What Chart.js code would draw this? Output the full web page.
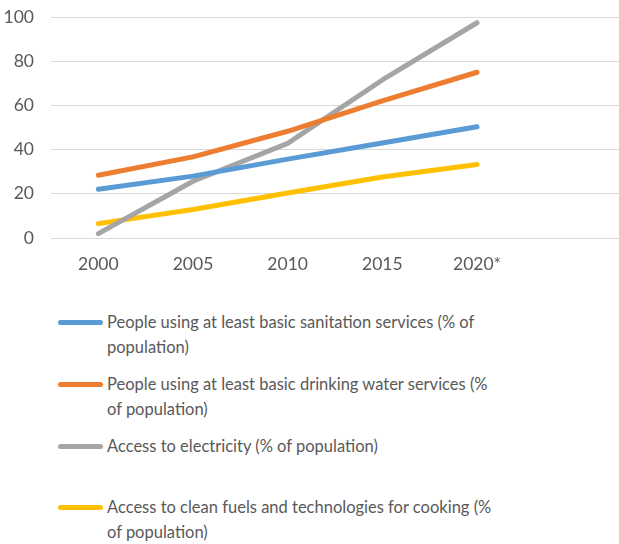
<!DOCTYPE html>
<html>
<head>
<meta charset="utf-8">
<script src="https://cdn.jsdelivr.net/npm/chart.js@4"></script>
<style>
  body { margin: 0; background: #fff; width: 619px; height: 544px; overflow: hidden; position: relative; font-family: Lato, sans-serif; }
  #wrap { position: absolute; left: 0; top: 0; width: 619px; height: 290px; }
  .leg { position: absolute; left: 58px; width: 440px; color: #595959; font-size: 16.5px; line-height: 25px; }
  .leg .sw { position: absolute; left: 0; top: 10px; width: 45px; height: 5px; border-radius: 3px; }
  .leg .tx { margin-left: 49px; }
</style>
</head>
<body>
<div id="wrap"><canvas id="lineChart" width="619" height="290"></canvas></div>
<div id="legend"></div>
<script>
// chart data
const years = ['2000', '2005', '2010', '2015', '2020*', ''];
const sanitation = [22.1, 28, 35.7, 43, 50.3];
const drinkingWater = [28.4, 36.7, 48.3, 62, 75];
const electricity = [2, 25.7, 42.8, 71.5, 97.4];
const cleanFuels = [6.5, 12.9, 20.4, 27.6, 33.3];
const seriesNames = [
    'People using at least basic sanitation services (% of population)',
    'People using at least basic drinking water services (% of population)',
    'Access to electricity (% of population)',
    'Access to clean fuels and technologies for cooking (% of population)'
];
const colors = ['#5B9BD5', '#ED7D31', '#A5A5A5', '#FFC000'];
const yTicks = [0, 20, 40, 60, 80, 100];

const allSeries = [sanitation, drinkingWater, electricity, cleanFuels];

function renderChart() {
    const ctx = document.getElementById('lineChart').getContext('2d');
    new Chart(ctx, {
        type: 'line',
        data: {
            labels: years,
            datasets: allSeries.map((vals, i) => ({
                label: seriesNames[i],
                data: vals,
                borderColor: colors[i],
                backgroundColor: colors[i],
                borderWidth: 5,
                borderCapStyle: 'round',
                borderJoinStyle: 'round',
                pointRadius: 0,
                tension: 0
            }))
        },
        options: {
            responsive: false,
            animation: false,
            layout: { padding: { top: 17, right: 0, left: 0, bottom: 0 } },
            plugins: { legend: { display: false }, tooltip: { enabled: false } },
            scales: {
                x: {
                    offset: true,
                    grid: { display: false, drawTicks: false },
                    border: { display: false },
                    ticks: { color: '#595959', font: { family: 'Lato', size: 17.5 }, padding: 16, maxRotation: 0, autoSkip: false },
                    afterFit: s => { s.height = 52; s.paddingLeft = 0; s.paddingRight = 0; }
                },
                y: {
                    min: 0, max: 100,
                    afterBuildTicks: s => { s.ticks = yTicks.map(v => ({ value: v })); },
                    grid: { color: '#D9D9D9', lineWidth: 1, drawTicks: false },
                    border: { display: false },
                    ticks: { color: '#595959', font: { family: 'Lato', size: 17.5 }, padding: 17 },
                    afterFit: s => { s.width = 51; s.paddingTop = 0; s.paddingBottom = 0; }
                }
            }
        }
    });
}

// legend built from the same arrays
function renderLegend() {
    const tops = [310, 372, 434, 495];
    const box = document.getElementById('legend');
    seriesNames.forEach((name, i) => {
        const d = document.createElement('div');
        d.className = 'leg';
        d.style.top = tops[i] + 'px';
        d.innerHTML = '<div class="sw" style="background:' + colors[i] + '"></div><div class="tx">' + name + '</div>';
        box.appendChild(d);
    });
}

renderChart();
renderLegend();
</script>
</body>
</html>
